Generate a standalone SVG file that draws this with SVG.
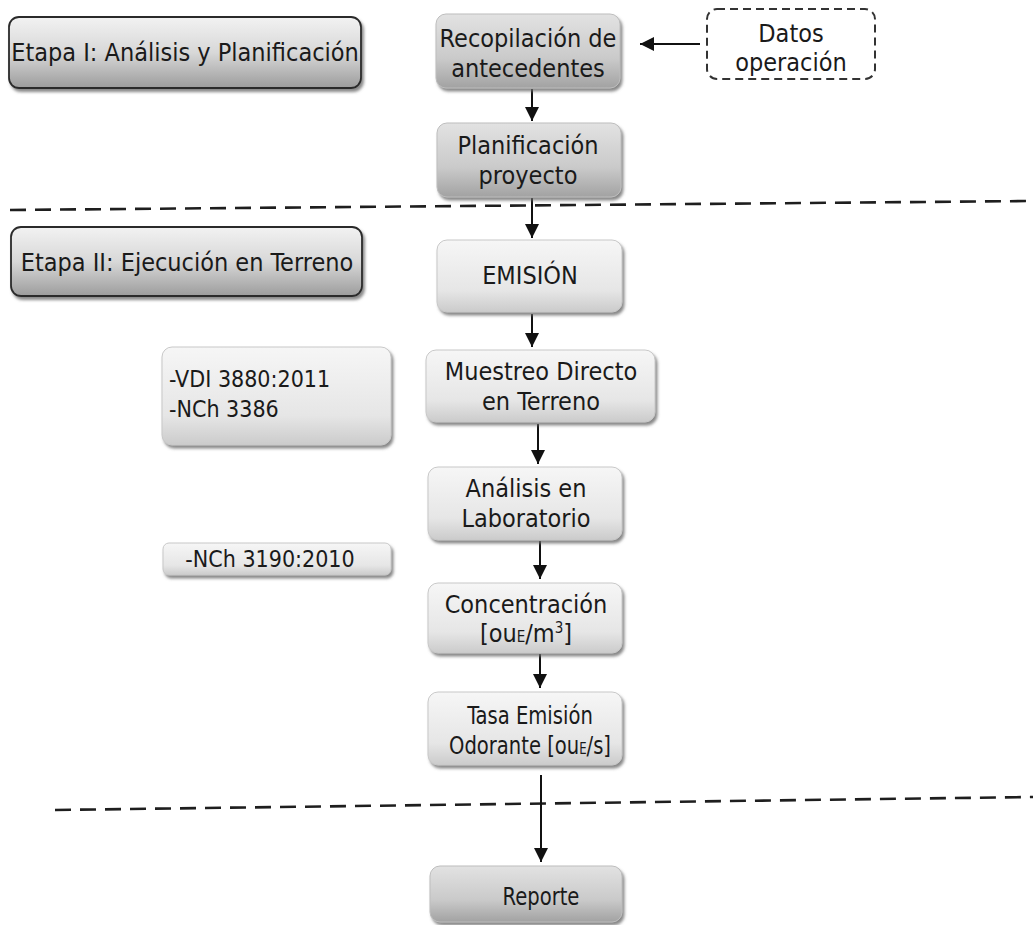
<svg xmlns="http://www.w3.org/2000/svg" width="1033" height="925" viewBox="0 0 1033 925">
<defs>
<linearGradient id="gStage" x1="0" y1="0" x2="0" y2="1">
<stop offset="0" stop-color="#f2f2f2"/><stop offset="0.5" stop-color="#d8d8d8"/><stop offset="1" stop-color="#9c9c9c"/>
</linearGradient>
<linearGradient id="gDark" x1="0" y1="0" x2="0" y2="1">
<stop offset="0" stop-color="#e2e2e2"/><stop offset="0.6" stop-color="#cacaca"/><stop offset="1" stop-color="#a2a2a2"/>
</linearGradient>
<linearGradient id="gLight" x1="0" y1="0" x2="0" y2="1">
<stop offset="0" stop-color="#f6f6f6"/><stop offset="0.7" stop-color="#e6e6e6"/><stop offset="1" stop-color="#cbcbcb"/>
</linearGradient>
<filter id="sh" x="-10%" y="-10%" width="125%" height="135%">
<feDropShadow dx="2" dy="3" stdDeviation="1.5" flood-color="#6a6a6a" flood-opacity="0.8"/>
</filter>
<marker id="ah" viewBox="0 0 10 10" refX="10" refY="5" markerWidth="7" markerHeight="7" markerUnits="strokeWidth" orient="auto">
<path d="M0,0 L10,5 L0,10 Z" fill="#111"/>
</marker>
<style>
text{font-family:"DejaVu Sans Condensed","DejaVu Sans",sans-serif;font-size:25px;fill:#1a1a1a;text-anchor:middle}
.l{text-anchor:start}
.m{font-size:23px}
.stage{fill:url(#gStage);stroke:#2a2a2a;stroke-width:1.8;filter:url(#sh)}
.dark{fill:url(#gDark);stroke:#bdbdbd;stroke-width:1;filter:url(#sh)}
.light{fill:url(#gLight);stroke:#c8c8c8;stroke-width:1;filter:url(#sh)}
.edge{stroke:#111;stroke-width:2;fill:none;marker-end:url(#ah)}
.sep{stroke:#1e1e1e;stroke-width:2.6;stroke-dasharray:16 9;fill:none}
.sub{font-size:15px}
</style>
</defs>
<rect width="1033" height="925" fill="#ffffff"/>

<g id="separators">
<line class="sep" x1="10" y1="210" x2="1033" y2="201"/>
<line class="sep" x1="55" y1="810" x2="1033" y2="797"/>
</g>

<g id="connectors">
<line class="edge" x1="700" y1="44" x2="640" y2="44"/>
<line class="edge" x1="532" y1="89" x2="532" y2="121"/>
<line class="edge" x1="532" y1="198" x2="532" y2="238"/>
<line class="edge" x1="532" y1="314" x2="532" y2="347"/>
<line class="edge" x1="538" y1="424" x2="538" y2="464"/>
<line class="edge" x1="540" y1="541" x2="540" y2="579"/>
<line class="edge" x1="540" y1="654" x2="540" y2="688"/>
<line class="edge" x1="541" y1="775" x2="541" y2="862"/>
</g>

<g id="etapa1">
<rect class="stage" x="9" y="17" width="352" height="71" rx="10"/>
<text x="185" y="61">Etapa I: Análisis y Planificación</text>
</g>

<g id="recopilacion">
<rect class="dark" x="436" y="14" width="184" height="74" rx="10"/>
<text x="528" y="47">Recopilación de</text>
<text x="528" y="77">antecedentes</text>
</g>

<g id="datos">
<rect x="707" y="9" width="168" height="70" rx="10" fill="#ffffff" stroke="#333" stroke-width="2" stroke-dasharray="8 5"/>
<text x="791" y="42">Datos</text>
<text x="791" y="71">operación</text>
</g>

<g id="planificacion">
<rect class="dark" x="437" y="123" width="184" height="74" rx="10"/>
<text x="528" y="154">Planificación</text>
<text x="528" y="184">proyecto</text>
</g>

<g id="etapa2">
<rect class="stage" x="11" y="227" width="351" height="69" rx="10"/>
<text x="187" y="271">Etapa II: Ejecución en Terreno</text>
</g>

<g id="emision">
<rect class="light" x="437" y="240" width="185" height="72" rx="10"/>
<text x="530" y="284">EMISIÓN</text>
</g>

<g id="normas1">
<rect class="light" x="162" y="347" width="229" height="98" rx="10"/>
<text class="l m" x="169" y="387">-VDI 3880:2011</text>
<text class="l m" x="169" y="417">-NCh 3386</text>
</g>

<g id="muestreo">
<rect class="light" x="426" y="350" width="229" height="72" rx="10"/>
<text x="541" y="380">Muestreo Directo</text>
<text x="541" y="410">en Terreno</text>
</g>

<g id="analisis">
<rect class="light" x="428" y="467" width="194" height="73" rx="10"/>
<text x="526" y="497">Análisis en</text>
<text x="526" y="527">Laboratorio</text>
</g>

<g id="normas2">
<rect class="light" x="163" y="543" width="228" height="32" rx="6"/>
<text class="m" x="270" y="567">-NCh 3190:2010</text>
</g>

<g id="concentracion">
<rect class="light" x="428" y="583" width="194" height="70" rx="10"/>
<text x="526" y="613">Concentración</text>
<text x="526" y="642">[ou<tspan class="sub">E</tspan>/m<tspan class="sub" dy="-9">3</tspan><tspan dy="9">]</tspan></text>
</g>

<g id="tasa">
<rect class="light" x="428" y="692" width="194" height="73" rx="10"/>
<g transform="translate(530,0) scale(0.87,1)">
<text x="0" y="724">Tasa Emisión</text>
<text x="0" y="754">Odorante [ou<tspan class="sub">E</tspan>/s]</text>
</g>
</g>

<g id="reporte">
<rect class="dark" x="430" y="866" width="192" height="56" rx="10"/>
<g transform="translate(541,0) scale(0.87,1)">
<text x="0" y="905">Reporte</text>
</g>
</g>
</svg>
